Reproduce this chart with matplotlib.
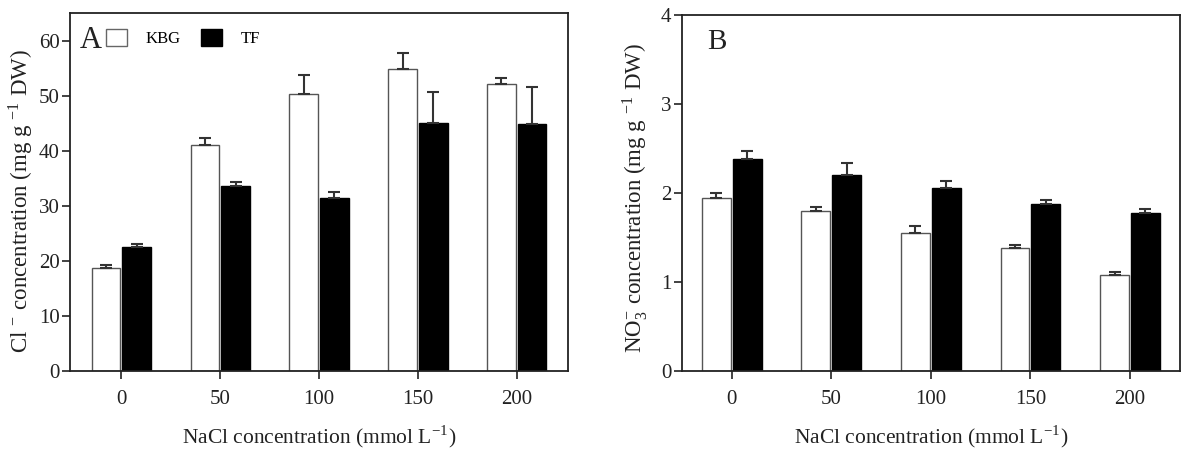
import matplotlib
matplotlib.use("Agg")
import matplotlib.pyplot as plt
import numpy as np
from matplotlib.patches import Patch

categories = ["0", "50", "100", "150", "200"]
cl_kbg = [18.7, 41.0, 50.4, 54.9, 52.2]
cl_kbg_err = [0.5, 1.3, 3.4, 2.9, 1.1]
cl_tf = [22.6, 33.6, 31.4, 45.1, 44.8]
cl_tf_err = [0.4, 0.7, 1.1, 5.5, 6.8]
no3_kbg = [1.94, 1.80, 1.55, 1.38, 1.08]
no3_kbg_err = [0.06, 0.045, 0.075, 0.035, 0.03]
no3_tf = [2.38, 2.20, 2.06, 1.88, 1.77]
no3_tf_err = [0.09, 0.14, 0.08, 0.04, 0.05]

plt.rcParams['font.family'] = ['Liberation Serif', 'DejaVu Serif']
plt.rcParams['mathtext.fontset'] = 'stix'

fig = plt.figure(figsize=(11.81, 4.53), dpi=100)
axA = fig.add_axes([0.0593, 0.181, 0.4217, 0.790])
axB = fig.add_axes([0.5775, 0.181, 0.4215, 0.786])

x = np.arange(len(categories))
w = 0.29
off = 0.155

def draw(ax, kbg, kerr, tf, terr, ylim, yticks):
    ax.bar(x - off, kbg, w, color='white', edgecolor='#555555', linewidth=1.0, zorder=2)
    ax.bar(x + off, tf, w, color='black', edgecolor='black', linewidth=1.0, zorder=2)
    ax.errorbar(x - off, kbg, yerr=[np.zeros(len(kbg)), kerr], fmt='none',
                ecolor='#333333', elinewidth=1.5, capsize=4, capthick=1.5, zorder=3)
    ax.errorbar(x + off, tf, yerr=[np.zeros(len(tf)), terr], fmt='none',
                ecolor='#333333', elinewidth=1.5, capsize=4, capthick=1.5, zorder=3)
    ax.set_xlim(-0.52, 4.52)
    ax.set_ylim(*ylim)
    ax.set_yticks(yticks)
    ax.set_xticks(x)
    ax.set_xticklabels(categories)
    ax.tick_params(axis='both', direction='out', length=6, width=1.2, labelsize=15, colors='#222222')
    ax.tick_params(axis='x', pad=8)
    ax.tick_params(axis='y', pad=1.5)
    for s in ax.spines.values():
        s.set_linewidth(1.3)
        s.set_color('#222222')
    ax.set_xlabel("NaCl concentration (mmol L$^{\\mathregular{-1}}$)", fontsize=15.5,
                  labelpad=10, color='#222222')

draw(axA, cl_kbg, cl_kbg_err, cl_tf, cl_tf_err, (0, 65), [0, 10, 20, 30, 40, 50, 60])
draw(axB, no3_kbg, no3_kbg_err, no3_tf, no3_tf_err, (0, 4), [0, 1, 2, 3, 4])
axB.set_xlim(-0.5, 4.5)

axA.set_ylabel("Cl $^{\\mathregular{-}}$ concentration (mg g $^{\\mathregular{-1}}$ DW)", fontsize=16.5,
               labelpad=3, color='#222222', y=0.475)
axB.set_ylabel("NO$_{\\mathregular{3}}^{\\mathregular{-}}$ concentration (mg g $^{\\mathregular{-1}}$ DW)",
               fontsize=16.5, labelpad=8, color='#222222', y=0.486)

axA.text(0.02, 0.965, "A", transform=axA.transAxes, fontsize=22, va='top', ha='left', color='#222222')
axB.text(0.05, 0.96, "B", transform=axB.transAxes, fontsize=21, va='top', ha='left', color='#222222')

handles = [Patch(facecolor='white', edgecolor='#666666', label='KBG'),
           Patch(facecolor='black', edgecolor='black', label='TF')]
axA.legend(handles=handles, loc='center left', bbox_to_anchor=(0.072, 0.93), ncol=2,
           frameon=False, fontsize=12, handlelength=1.26, handleheight=1.2,
           columnspacing=1.2, handletextpad=1.14, borderpad=0, borderaxespad=0)

fig.savefig("out.png", dpi=100)
